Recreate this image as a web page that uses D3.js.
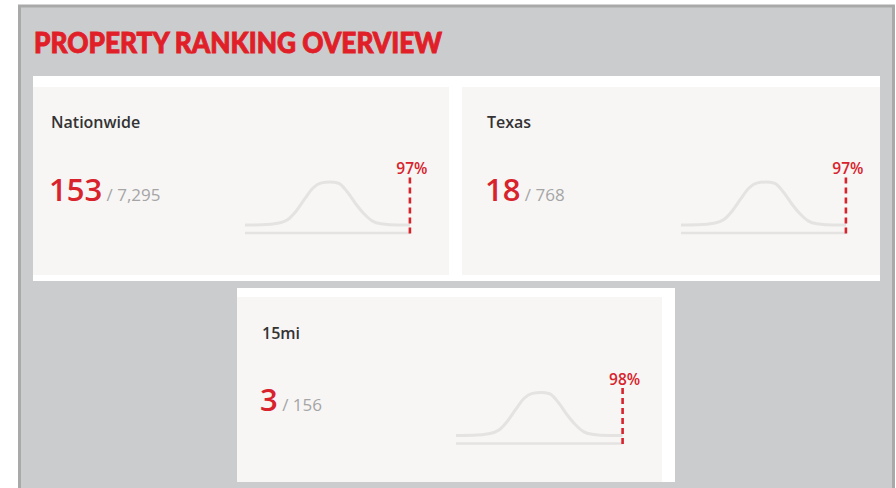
<!DOCTYPE html>
<html>
<head>
<meta charset="utf-8">
<script src="https://cdn.jsdelivr.net/npm/d3@7"></script>
<style>
  html, body { margin: 0; padding: 0; background: #ffffff; }
  svg { display: block; }
</style>
</head>
<body>
<svg id="chart" width="896" height="488"></svg>
<script>
// ---------------- data ----------------
const chartTitle = "PROPERTY RANKING OVERVIEW";
const regions = ["Nationwide", "Texas", "15mi"];
const ranks = [153, 18, 3];
const totals = [7295, 768, 156];
const percentiles = [97, 97, 98];
// reference distribution shape (percentile position -> relative density)
const distPct = [0, 10, 20, 25, 30, 35, 40, 45, 50, 55, 60, 65, 70, 75, 80, 90, 100];
const distDensity = [0, 0.005, 0.045, 0.12, 0.32, 0.6, 0.86, 0.98, 1, 0.97, 0.78, 0.5, 0.26, 0.09, 0.03, 0, 0];

// ---------------- layout ----------------
const frames = [
  { x: 33, y: 76, w: 847, h: 205 },
  { x: 237, y: 288, w: 438, h: 194 }
];
const cards = [
  { x: 33, y: 87, w: 416, h: 188, ox: 26, oy: 87 },
  { x: 462, y: 87, w: 418, h: 188, ox: 462, oy: 87 },
  { x: 237, y: 297, w: 425, h: 185, ox: 237, oy: 297.5 }
];
const RED = "#e01f28";
const NUM_RED = "#d8232c";
const CURVE = "#e4e3e1";

const svg = d3.select("#chart");

// outer panel
svg.append("rect")
  .attr("x", 19.5).attr("y", 6).attr("width", 874).attr("height", 500)
  .attr("fill", "#cbcccd").attr("stroke", "#a9a9a9").attr("stroke-width", 3);

// title
svg.append("text")
  .attr("x", 34).attr("y", 53)
  .attr("font-family", "Lato, 'Open Sans', sans-serif")
  .attr("font-weight", 900)
  .attr("font-size", 28)
  .attr("fill", RED)
  .attr("stroke", RED)
  .attr("stroke-width", 0.9)
  .attr("textLength", 408)
  .attr("lengthAdjust", "spacingAndGlyphs")
  .text(chartTitle);

// white frames
svg.selectAll("rect.frame").data(frames).join("rect")
  .attr("class", "frame")
  .attr("x", d => d.x).attr("y", d => d.y)
  .attr("width", d => d.w).attr("height", d => d.h)
  .attr("fill", "#ffffff");

// cards
const data = regions.map((r, i) => ({
  region: r, rank: ranks[i], total: totals[i], pct: percentiles[i], layout: cards[i]
}));

const fmt = d3.format(",");
const x = d3.scaleLinear().domain([0, 100]).range([0, 170]);
const y = d3.scaleLinear().domain([0, 1]).range([138, 95]);

const g = svg.selectAll("g.card").data(data).join("g").attr("class", "card");

g.append("rect")
  .attr("x", d => d.layout.x).attr("y", d => d.layout.y)
  .attr("width", d => d.layout.w).attr("height", d => d.layout.h)
  .attr("fill", "#f7f6f5");

const inner = g.append("g")
  .attr("transform", d => `translate(${d.layout.ox},${d.layout.oy})`);

inner.append("text")
  .attr("x", 25).attr("y", 41)
  .attr("font-family", "'Open Sans', sans-serif")
  .attr("font-weight", 600)
  .attr("font-size", 16)
  .attr("fill", "#333333")
  .text(d => d.region);

const num = inner.append("text")
  .attr("x", 23).attr("y", 113.5)
  .attr("font-family", "'Open Sans', sans-serif");
num.append("tspan")
  .attr("font-weight", 600)
  .attr("font-size", 31)
  .attr("fill", NUM_RED)
  .text(d => d.rank);
num.append("tspan")
  .attr("font-weight", 400)
  .attr("font-size", 17)
  .attr("fill", "#a5a5a5")
  .text(d => " / " + fmt(d.total));

// sparkline
const spark = inner.append("g").attr("transform", "translate(219,0)");

spark.append("line")
  .attr("x1", x(0)).attr("x2", d => x(d.pct))
  .attr("y1", 146).attr("y2", 146)
  .attr("stroke", CURVE).attr("stroke-width", 2.5);

const line = d3.line()
  .x(p => x(p[0])).y(p => y(p[1]))
  .curve(d3.curveMonotoneX);

spark.append("path")
  .attr("d", d => {
    const pts = distPct.map((p, i) => [p, distDensity[i]]).filter(p => p[0] < d.pct);
    pts.push([d.pct, 0]);
    return line(pts);
  })
  .attr("fill", "none")
  .attr("stroke", CURVE)
  .attr("stroke-width", 3);

spark.append("line")
  .attr("x1", d => x(d.pct)).attr("x2", d => x(d.pct))
  .attr("y1", 90.5).attr("y2", 148)
  .attr("stroke", NUM_RED).attr("stroke-width", 2.6)
  .attr("stroke-dasharray", "6,4");

spark.append("text")
  .attr("x", d => x(d.pct) + 2).attr("y", 87)
  .attr("text-anchor", "middle")
  .attr("font-family", "'Open Sans', sans-serif")
  .attr("font-weight", 600)
  .attr("font-size", 15.5)
  .attr("fill", NUM_RED)
  .text(d => d.pct + "%");
</script>
</body>
</html>
